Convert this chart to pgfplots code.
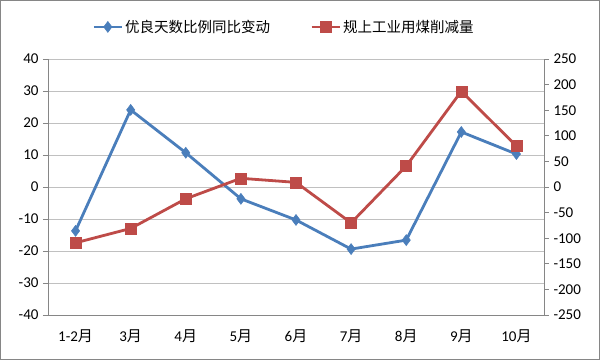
\documentclass[border=0pt]{standalone}
\usepackage{pgfplots}
\pgfplotsset{compat=1.18}
\usepackage{fontspec}
\setmainfont{Carlito}
\newfontfamily\cjk{Noto Sans CJK SC}
\definecolor{sblue}{HTML}{4A7EBB}
\definecolor{sred}{HTML}{BE4B48}
\definecolor{axgray}{HTML}{868686}
\definecolor{gridgray}{HTML}{C0C0C0}
\begin{document}
\begin{tikzpicture}[x=1pt,y=1pt]
\fill[white] (0,0) rectangle (600,360);
\draw[axgray,line width=1.2pt] (0.6,0.6) rectangle (599.4,359.4);
\begin{axis}[
  at={(48pt,45pt)}, anchor=south west,
  scale only axis, width=496pt, height=256pt,
  xmin=-0.5, xmax=8.5, ymin=-40, ymax=40,
  ytick={-40,-30,...,40},
  xtick={0,...,8},
  xticklabels={1-2{\cjk 月},3{\cjk 月},4{\cjk 月},5{\cjk 月},6{\cjk 月},7{\cjk 月},8{\cjk 月},9{\cjk 月},10{\cjk 月}},
  axis y line*=left, axis x line*=bottom,
  axis line style={axgray, line width=0.8pt, -},
  x axis line style={draw=axgray},
  ymajorgrids, grid style={gridgray, line width=0.8pt},
  major x tick style={draw=none},
  ytick style={axgray, line width=0.8pt},
  tick align=outside, major tick length=5pt,
  tick label style={font=\fontsize{15}{15}\selectfont, black},
  /pgf/number format/assume math mode=true,
  yticklabel style={xshift=-1pt},
  xticklabel style={yshift=-6pt},
  clip=false,
  legend style={at={(0.5,1)}, anchor=south, yshift=21pt, xshift=-12pt, draw=none, fill=none,
    legend columns=2, font=\fontsize{14.5}{14.5}\selectfont\cjk,
    /tikz/every even column/.append style={column sep=38pt}},
  legend image code/.code={
    \draw[#1] (0pt,0pt) -- (28pt,0pt);
    \draw[#1, mark repeat=1] plot coordinates {(14pt,0pt)};
  },
]
\addplot[sblue, line width=2.8pt, mark=diamond*, mark size=5.5pt, mark options={solid, line width=0.5pt}]
  coordinates {(0,-13.7) (1,24.1) (2,10.7) (3,-3.7) (4,-10.3) (5,-19.4) (6,-16.6) (7,17.2) (8,10.3)};
\addlegendentry{优良天数比例同比变动}
\addlegendimage{sred, line width=2.8pt, mark=square*, mark size=5.5pt, mark options={solid, line width=0.5pt}}
\addlegendentry{规上工业用煤削减量}
\end{axis}
\begin{axis}[
  at={(48pt,45pt)}, anchor=south west,
  scale only axis, width=496pt, height=256pt,
  xmin=-0.5, xmax=8.5, ymin=-250, ymax=250,
  ytick={-250,-200,...,250},
  xtick=\empty,
  axis y line*=right, axis x line=none,
  axis line style={axgray, line width=0.8pt, -},
  ytick style={axgray, line width=0.8pt},
  tick align=outside, major tick length=5pt,
  tick label style={font=\fontsize{15}{15}\selectfont, black},
  /pgf/number format/assume math mode=true,
  yticklabel style={xshift=1pt},
  clip=false,
]
\addplot[sred, line width=2.8pt, mark=square*, mark size=5.5pt, mark options={solid, line width=0.5pt}]
  coordinates {(0,-109) (1,-81) (2,-23) (3,17) (4,9) (5,-70) (6,41) (7,187) (8,80)};
\end{axis}
\end{tikzpicture}
\end{document}
